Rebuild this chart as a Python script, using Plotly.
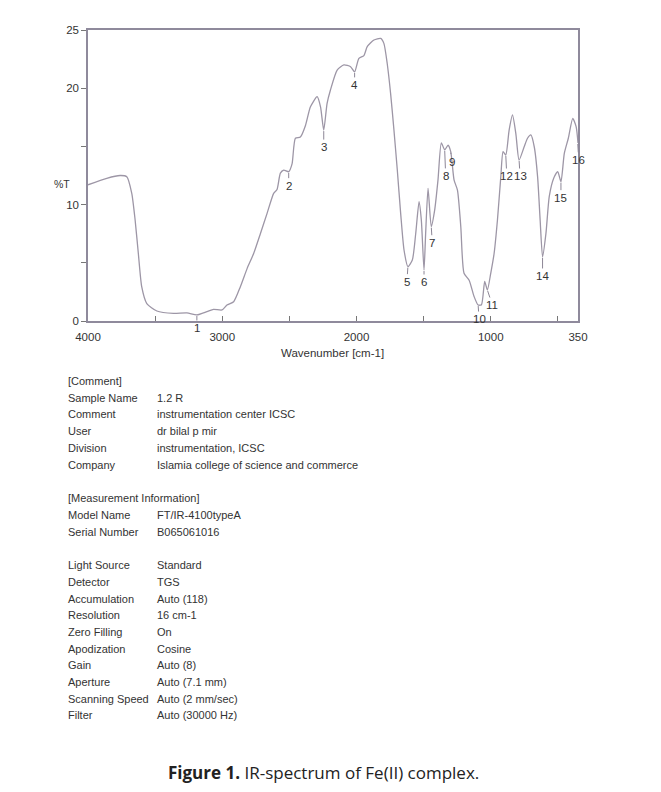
import plotly.graph_objects as go

# Spectrum (wavenumber cm-1, %T)
wavenumber = [4000, 3860, 3761, 3711, 3674, 3649, 3625, 3600, 3562, 3487, 3363, 3263, 3189, 3114,
              3065, 3002, 2965, 2915, 2865, 2815, 2766, 2716, 2666, 2617, 2592, 2567, 2542, 2505,
              2480, 2455, 2418, 2380, 2343, 2293, 2268, 2244, 2219, 2194, 2144, 2094, 2044, 2014,
              1982, 1945, 1920, 1870, 1820, 1796, 1771, 1746, 1721, 1696, 1671, 1646, 1617, 1584,
              1559, 1534, 1517, 1497, 1485, 1467, 1443, 1418, 1393, 1368, 1343, 1318, 1298, 1273,
              1248, 1223, 1199, 1161, 1124, 1094, 1069, 1045, 1025, 1000, 975, 950, 925, 908, 888,
              863, 838, 813, 789, 751, 726, 701, 676, 651, 632, 614, 589, 564, 531, 501, 477, 452,
              422, 389, 364, 350]
transmittance = [11.7, 12.26, 12.5, 12.4, 10.97, 8.68, 5.8, 2.95, 1.5, 0.86, 0.66, 0.7, 0.52, 0.8,
                 1.0, 0.95, 1.37, 1.66, 2.95, 4.5, 5.8, 7.5, 9.25, 10.97, 11.3, 12.7, 12.97, 12.83,
                 13.5, 15.7, 15.8, 16.8, 18.4, 19.27, 18.4, 16.4, 18.7, 19.85, 21.56, 22.0, 21.85, 21.4,
                 22.57, 22.8, 23.57, 24.14, 24.28, 23.85, 22.1, 19.56, 16.4, 12.97, 9.25, 6.1, 4.67, 5.24,
                 7.5, 10.25, 8.68, 4.38, 7.5, 11.4, 8.1, 9.5, 12.1, 15.3, 14.7, 15.1, 14.55, 12.1,
                 11.25, 8.1, 4.1, 3.5, 2.1, 1.37, 1.4, 3.4, 2.66, 4.1, 5.8, 8.68, 12.4, 14.55, 14.26,
                 16.4, 17.7, 16.1, 13.83, 14.97, 15.7, 15.98, 14.97, 12.4, 8.68, 5.5, 7.5, 10.7, 12.26,
                 12.83, 11.97, 14.4, 15.7, 17.4, 16.7, 15.3]

# Peak labels
peak_labels = ["1", "2", "3", "4", "5", "6", "7", "8", "9", "10", "11", "12", "13", "14", "15", "16"]
peak_wn = [3189, 2505, 2244, 2014, 1617, 1497, 1443, 1343, 1298, 1094, 1025, 888, 789, 614, 477, 352]
peak_t = [0.52, 12.83, 16.4, 21.4, 4.67, 4.38, 8.1, 14.7, 14.55, 1.37, 2.66, 14.26, 13.83, 5.5, 11.97, 15.3]
label_dy = [13, 14, 17, 13, 15, 12, 16, 26, 10, 14, 15, 21, 16, 19, 16, 17]
label_dx = [0, 0, 0, 0, -1, 0, 1, 1, 1, 1, 5, 1, 1, 0, 0, 1]

x_tickvals = [4000, 3500, 3000, 2500, 2000, 1500, 1000, 500, 350]
x_ticktext = ["4000", "", "3000", "", "2000", "", "1000", "", "350"]
y_tickvals = [0, 5, 10, 15, 20, 25]
y_ticktext = ["0", "", "10", "", "20", "25"]

comment_keys = ["Sample Name", "Comment", "User", "Division", "Company"]
comment_vals = ["1.2 R", "instrumentation center ICSC", "dr bilal p mir", "instrumentation, ICSC",
                "Islamia college of science and commerce"]
meas_keys = ["Model Name", "Serial Number", "", "Light Source", "Detector", "Accumulation", "Resolution",
             "Zero Filling", "Apodization", "Gain", "Aperture", "Scanning Speed", "Filter"]
meas_vals = ["FT/IR-4100typeA", "B065061016", "", "Standard", "TGS", "Auto (118)", "16 cm-1", "On",
             "Cosine", "Auto (8)", "Auto (7.1 mm)", "Auto (2 mm/sec)", "Auto (30000 Hz)"]

W, H = 661, 792
L, R, T, B = 88, 578, 30, 321
FONT = "Liberation Sans, Arial"


def px(x):
    return (x - L) / (R - L)


def py(y):
    return (B - y) / (B - T)


fig = go.Figure()
fig.add_trace(go.Scatter(x=wavenumber, y=transmittance, mode="lines",
                         line=dict(color="#9d96a6", width=1.3, shape="spline", smoothing=0.6),
                         hoverinfo="skip", showlegend=False))

annotations = []
for lab, xw, yt, dy, dx in zip(peak_labels, peak_wn, peak_t, label_dy, label_dx):
    annotations.append(dict(x=xw, y=yt, xref="x", yref="y", text=lab, showarrow=True,
                            arrowhead=0, arrowwidth=1, arrowcolor="#8c8696", ax=dx, ay=dy,
                            standoff=1, font=dict(family=FONT, size=11.5, color="#333333")))

annotations.append(dict(x=px(62), y=py(184), xref="paper", yref="paper", text="%T",
                        xanchor="center", yanchor="middle",
                        showarrow=False, font=dict(family=FONT, size=10.5, color="#333333")))
annotations.append(dict(x=px(332), y=py(353), xref="paper", yref="paper", text="Wavenumber [cm-1]",
                        xanchor="center", yanchor="middle",
                        showarrow=False, font=dict(family=FONT, size=11.5, color="#333333")))


def add_line(text, x, y, size=11):
    if text == "":
        return
    annotations.append(dict(x=px(x), y=py(y), xref="paper", yref="paper", text=text,
                            showarrow=False, xanchor="left", yanchor="middle",
                            font=dict(family=FONT, size=size, color="#333333")))


add_line("[Comment]", 66, 381)
y0 = 397.5
for i, (k, v) in enumerate(zip(comment_keys, comment_vals)):
    add_line(k, 66, y0 + i * 16.8)
    add_line(v, 155, y0 + i * 16.8)
add_line("[Measurement Information]", 66, 498)
y1 = 515
for i, (k, v) in enumerate(zip(meas_keys, meas_vals)):
    add_line(k, 66, y1 + i * 16.7)
    add_line(v, 155, y1 + i * 16.7)

annotations.append(dict(x=px(323), y=py(772), xref="paper", yref="paper",
                        xanchor="center", yanchor="middle",
                        text="<b>Figure 1.</b> IR-spectrum of Fe(II) complex.",
                        showarrow=False, font=dict(family="Open Sans, Noto Sans, Arial", size=17, color="#222222")))

fig.update_layout(
    width=W, height=H, margin=dict(l=L, r=W - R, t=T, b=H - B, pad=0),
    paper_bgcolor="white", plot_bgcolor="white",
    annotations=annotations,
    xaxis=dict(range=[4000, 350], autorange=False, tickmode="array", tickvals=x_tickvals,
               ticktext=x_ticktext, ticks="inside", ticklen=5, tickcolor="#777777",
               ticklabelstandoff=4,
               showgrid=False, zeroline=False, showline=True, linecolor="#8f8a9c", linewidth=1.5,
               mirror=True, tickfont=dict(family=FONT, size=11.5, color="#333333")),
    yaxis=dict(range=[0, 25], autorange=False, tickmode="array", tickvals=y_tickvals,
               ticktext=y_ticktext, ticks="outside", ticklen=5, tickcolor="#777777",
               showgrid=False, zeroline=False, showline=True, linecolor="#8f8a9c", linewidth=1.5,
               mirror=True, tickfont=dict(family=FONT, size=11.5, color="#333333")),
)

fig.write_html("out.html")
